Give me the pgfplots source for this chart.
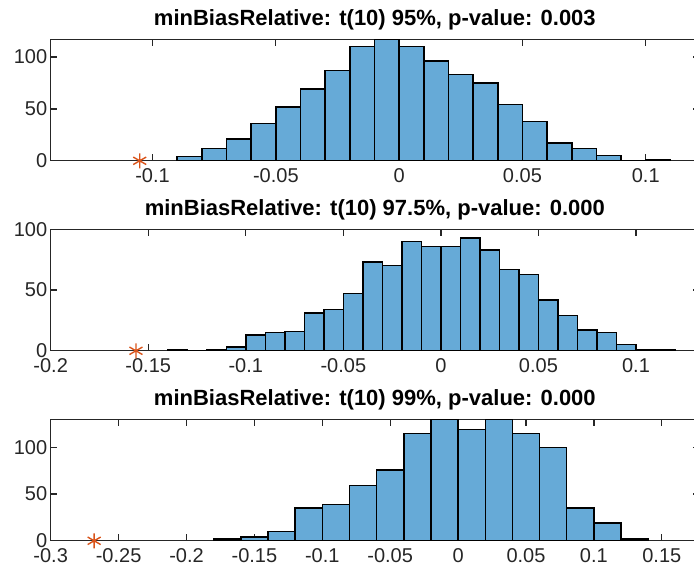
\documentclass[border=0pt]{standalone}
\usepackage{fontspec}
\setmainfont{Liberation Sans}
\usepackage{pgfplots}
\pgfplotsset{compat=1.18}
\definecolor{barc}{RGB}{102,170,215}
\definecolor{axc}{RGB}{38,38,38}
\definecolor{starc}{RGB}{217,83,25}
\pgfplotsset{
  hp/.style={
    scale only axis, width=648.3pt, height=121.5pt, anchor=north west,
    axis line style={axc, line width=1.3pt},
    tick style={axc, line width=1.3pt},
    major tick length=6.5pt, tick align=inside,
    ymin=0, ytick={0,50,100},
    scaled ticks=false,
    /pgf/number format/assume math mode=true,
    /pgf/number format/fixed,
    /pgf/number format/precision=2,
    xticklabel style={font=\fontsize{20}{24}\selectfont, text=axc, yshift=-4pt},
    yticklabel style={font=\fontsize{20}{24}\selectfont, text=axc},
    title style={font=\fontsize{22}{26}\selectfont\bfseries, text=black},
  },
  hbar/.style={ybar interval, fill=barc, draw=black, line width=1.5pt},
  hstar/.style={only marks, mark=asterisk, mark size=7.5pt, starc, line width=1.4pt},
}
\pgfplotstableread{
x y
-0.09 4
-0.08 12
-0.07 21
-0.06 36
-0.05 52
-0.04 69
-0.03 87
-0.02 110
-0.01 117
0.00 110
0.01 96
0.02 83
0.03 75
0.04 54
0.05 38
0.06 17
0.07 12
0.08 5
0.09 0
0.10 1
0.11 0
}\histA
\pgfplotstableread{
x y
-0.14 1
-0.13 0
-0.12 1
-0.11 3
-0.10 13
-0.09 15
-0.08 16
-0.07 31
-0.06 34
-0.05 47
-0.04 73
-0.03 70
-0.02 90
-0.01 86
0.00 86
0.01 93
0.02 83
0.03 67
0.04 63
0.05 42
0.06 29
0.07 17
0.08 15
0.09 5
0.10 1
0.11 1
0.12 0
}\histB
\pgfplotstableread{
x y
-0.18 2
-0.16 4
-0.14 10
-0.12 35
-0.10 39
-0.08 59
-0.06 76
-0.04 115
-0.02 130
0.00 119
0.02 130
0.04 115
0.06 100
0.08 35
0.10 19
0.12 2
0.14 0
}\histC
\begin{document}
\begin{tikzpicture}
\begin{axis}[hp, at={(50.7pt,-39.3pt)},
  xmin=-0.1413, xmax=0.1216, ymax=117,
  xtick={-0.1,-0.05,0,0.05,0.1},
  title={minBiasRelative: t(10) 95\%, p-value: 0.003}]
  \addplot[hbar] table[x=x,y=y] {\histA};
  \addplot[hstar] coordinates {(-0.1052,0)};
\end{axis}
\begin{axis}[hp, at={(50.7pt,-229.3pt)},
  xmin=-0.2, xmax=0.1323, ymax=100,
  xtick={-0.2,-0.15,-0.1,-0.05,0,0.05,0.1},
  title={minBiasRelative: t(10) 97.5\%, p-value: 0.000}]
  \addplot[hbar] table[x=x,y=y] {\histB};
  \addplot[hstar] coordinates {(-0.1563,0)};
\end{axis}
\begin{axis}[hp, at={(50.7pt,-419.3pt)},
  xmin=-0.3, xmax=0.1774, ymax=130,
  xtick={-0.3,-0.25,-0.2,-0.15,-0.1,-0.05,0,0.05,0.1,0.15},
  title={minBiasRelative: t(10) 99\%, p-value: 0.000}]
  \addplot[hbar] table[x=x,y=y] {\histC};
  \addplot[hstar] coordinates {(-0.268,0)};
\end{axis}
\pgfresetboundingbox
\path[use as bounding box] (0,0) rectangle (694pt,-569pt);
\end{tikzpicture}
\end{document}
